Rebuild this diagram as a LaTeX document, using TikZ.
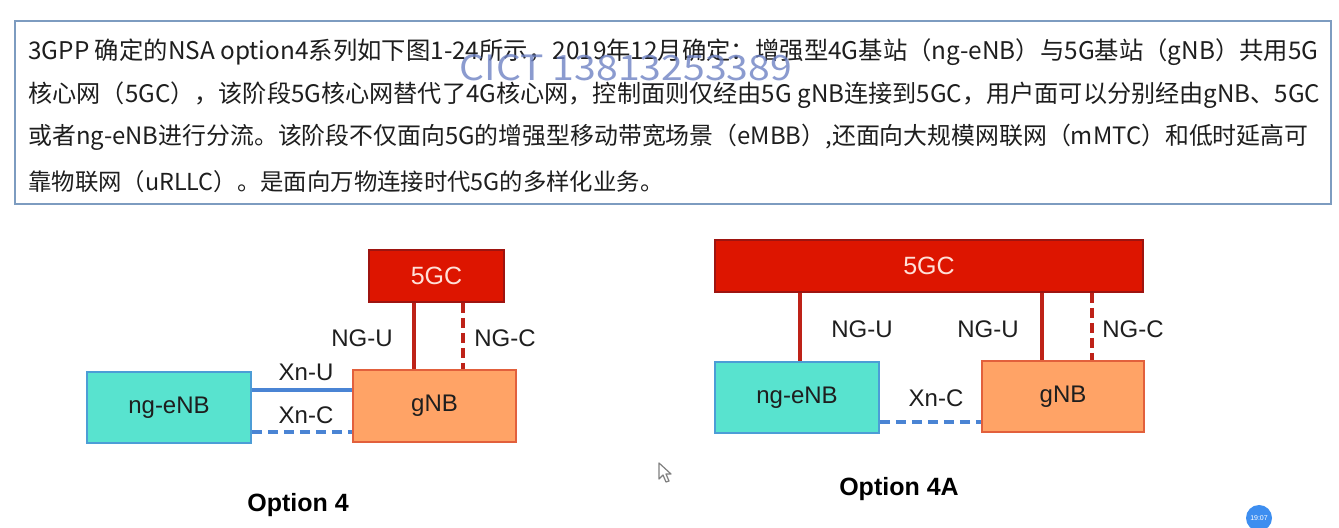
\documentclass[tikz,border=0pt]{standalone}
\usepackage{fontspec}
\setmainfont{Liberation Sans}
\newfontfamily\cjk{Noto Sans CJK SC}
\usetikzlibrary{calc}
\definecolor{txt}{HTML}{1E1E1E}
\definecolor{boxline}{HTML}{7D9CC0}
\definecolor{corefill}{HTML}{DD1500}
\definecolor{coreline}{HTML}{9E1410}
\definecolor{corefont}{HTML}{FFE0D8}
\definecolor{gnbfill}{HTML}{FFA366}
\definecolor{gnbline}{HTML}{E2603C}
\definecolor{enbfill}{HTML}{58E3CF}
\definecolor{enbline}{HTML}{4C9DD6}
\definecolor{redlink}{HTML}{BE2218}
\definecolor{bluelink}{HTML}{4A84D4}
\definecolor{wmcol}{HTML}{6E82C4}
\definecolor{badge}{HTML}{3D8EF0}
\tikzset{
  core/.style={draw=coreline, line width=0.8pt, fill=corefill, text=corefont, font=\fontsize{12.5pt}{14pt}\selectfont, inner sep=0pt},
  gnbbox/.style={draw=gnbline, line width=0.8pt, fill=gnbfill, text=txt, font=\fontsize{12pt}{14pt}\selectfont, inner sep=0pt},
  enbbox/.style={draw=enbline, line width=0.8pt, fill=enbfill, text=txt, font=\fontsize{12pt}{14pt}\selectfont, inner sep=0pt},
  lbl/.style={text=txt, font=\fontsize{12pt}{14pt}\selectfont, inner sep=0pt},
  optcaption/.style={text=black, font=\bfseries\fontsize{12.5pt}{14pt}\selectfont, inner sep=0pt},
  ngu/.style={draw=redlink, line width=2pt},
  ngc/.style={draw=redlink, line width=2pt, dash pattern=on 5pt off 2.5pt},
  xnu/.style={draw=bluelink, line width=2pt},
  xnc/.style={draw=bluelink, line width=2pt, dash pattern=on 5pt off 3pt},
  para/.style={anchor=west, inner sep=0pt, text=txt, font=\cjk\fontsize{11.75pt}{14pt}\selectfont}
}
\begin{document}
\begin{tikzpicture}[x=0.5pt, y=-0.5pt]
\useasboundingbox[fill=white] (0,0) rectangle (1339,528);

% text panel
\node[draw=boxline, line width=0.8pt, fill=white, minimum width=658pt, minimum height=91.5pt, inner sep=0pt] (panel) at (673,112.5) {};
\node[para] (l1) at (28,52) {\resizebox{645pt}{!}{3GPP 确定的NSA option4系列如下图1-24所示，2019年12月确定：增强型4G基站（ng-eNB）与5G基站（gNB）共用5G}};
\node[para] (l2) at (28,95) {\resizebox{646pt}{!}{核心网（5GC），该阶段5G核心网替代了4G核心网，控制面则仅经由5G gNB连接到5GC，用户面可以分别经由gNB、5GC}};
\node[para] (l3) at (28,137) {\resizebox{640pt}{!}{或者ng-eNB进行分流。该阶段不仅面向5G的增强型移动带宽场景（eMBB）,还面向大规模网联网（mMTC）和低时延高可}};
\node[para] (l4) at (28,182) {\resizebox{317.5pt}{!}{靠物联网（uRLLC）。是面向万物连接时代5G的多样化业务。}};
\node[inner sep=0pt, text=wmcol, opacity=0.8, font=\cjk] (wm) at (626,68) {\resizebox{166pt}{13pt}{CICT 13813253389}};

% ---------- Option 4 ----------
\node[core, minimum width=67.5pt, minimum height=26pt] (c1) at (436.5,276) {5GC};
\node[gnbbox, minimum width=81.5pt, minimum height=36pt] (g1) at (434.5,406) {gNB};
\node[enbbox, minimum width=82pt, minimum height=35.5pt] (e1) at (169,407.5) {ng-eNB};
\coordinate (u1) at (414,0);
\coordinate (k1) at (463,0);
\coordinate (xu1) at (0,390);
\coordinate (xc1) at (0,432);
\draw[ngu] (c1.south -| u1) -- (g1.north -| u1);
\draw[ngc] (c1.south -| k1) -- (g1.north -| k1);
\draw[xnu] (e1.east |- xu1) -- (g1.west |- xu1);
\draw[xnc] (e1.east |- xc1) -- (g1.west |- xc1);
\node[lbl] (t1) at (362,338) {NG-U};
\node[lbl] (t2) at (505,338) {NG-C};
\node[lbl] (t3) at (306,372) {Xn-U};
\node[lbl] (t4) at (306,415) {Xn-C};
\node[optcaption] (o1) at (298,505) {Option 4};

% ---------- Option 4A ----------
\node[core, minimum width=214pt, minimum height=26pt] (c2) at (929,266) {5GC};
\node[enbbox, minimum width=82pt, minimum height=35.5pt] (e2) at (797,397.5) {ng-eNB};
\node[gnbbox, minimum width=81pt, minimum height=35.5pt] (g2) at (1063,396.5) {gNB};
\coordinate (u2) at (800,0);
\coordinate (u3) at (1042,0);
\coordinate (k2) at (1092,0);
\coordinate (xc2) at (0,422);
\draw[ngu] (c2.south -| u2) -- (e2.north -| u2);
\draw[ngu] (c2.south -| u3) -- (g2.north -| u3);
\draw[ngc] (c2.south -| k2) -- (g2.north -| k2);
\draw[xnc] (e2.east |- xc2) -- (g2.west |- xc2);
\node[lbl] (t5) at (862,329) {NG-U};
\node[lbl] (t6) at (988,329) {NG-U};
\node[lbl] (t7) at (1133,329) {NG-C};
\node[lbl] (t8) at (936,398) {Xn-C};
\node[optcaption] (o2) at (899,489) {Option 4A};

% screen artefacts: cursor and time badge
\draw[gray, line width=0.6pt, fill=white, line join=round] (659,463) -- (659,479) -- (663,475) -- (666,482) -- (669,481) -- (666,474) -- (671,474) -- cycle;
\node[circle, fill=badge, minimum size=13pt, inner sep=0pt, text=white, font=\fontsize{3.5pt}{4pt}\selectfont] (badge) at (1259,518) {19:07};
\end{tikzpicture}
\end{document}
